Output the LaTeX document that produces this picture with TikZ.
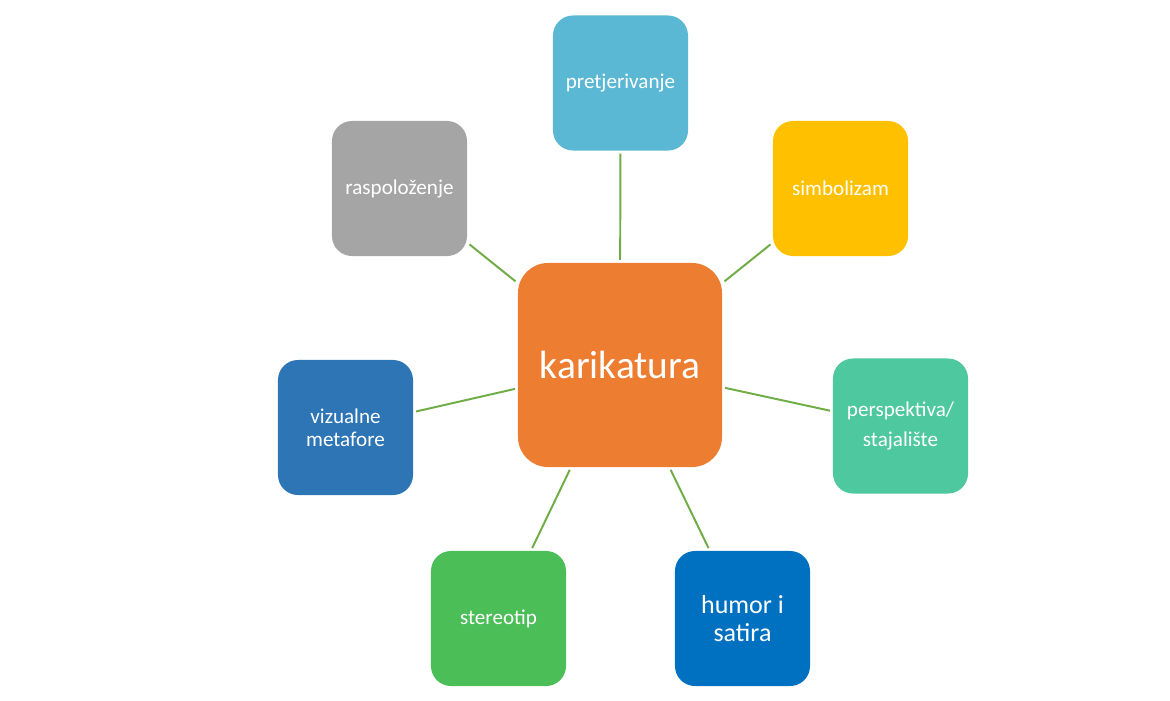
\documentclass[tikz,border=0pt]{standalone}
\usepackage{fontspec}
\setmainfont{Carlito}

\definecolor{linkgreen}{HTML}{70AD47}
\definecolor{boxorange}{HTML}{ED7D31}
\definecolor{boxsky}{HTML}{5BB8D4}
\definecolor{boxyellow}{HTML}{FFC000}
\definecolor{boxteal}{HTML}{4EC89E}
\definecolor{boxblue}{HTML}{0070C0}
\definecolor{boxgreen}{HTML}{4CBE58}
\definecolor{boxsteel}{HTML}{2E75B6}
\definecolor{boxgray}{HTML}{A5A5A5}

\begin{document}
\begin{tikzpicture}[x=0.025cm, y=-0.025cm,
	leaf/.style={rounded corners=0.5cm, minimum width=3.375cm, minimum height=3.375cm,
		text=white, align=center, inner sep=0pt, font=\fontsize{15}{16}\selectfont},
	hub/.style={rounded corners=0.75cm, minimum width=5.1cm, minimum height=5.1cm,
		text=white, align=center, fill=boxorange, font=\fontsize{28}{32}\selectfont},
	link/.style={linkgreen, line width=1.4pt, shorten <=2pt, shorten >=2pt}]
	\useasboundingbox (0,0) rectangle (1170,700);
	% centre
	\node [hub] (kar) at (620,365) {karikatura};
	% ring of topics
	\node [leaf, fill=boxsky] (pret) at (620.5,83) {pretjerivanje};
	\node [leaf, fill=boxyellow] (simb) at (840.5,188.5) {simbolizam};
	\node [leaf, fill=boxteal, font=\fontsize{15}{22}\selectfont] (persp) at (900.5,426) {perspektiva/\\stajalište};
	\node [leaf, fill=boxblue, font=\fontsize{18.5}{20}\selectfont] (hum) at (742.5,618.5) {humor i\\satira};
	\node [leaf, fill=boxgreen] (ster) at (498.5,618.5) {stereotip};
	\node [leaf, fill=boxsteel] (viz) at (345.5,427.5) {vizualne\\metafore};
	\node [leaf, fill=boxgray] (rasp) at (399.5,188.5) {raspoloženje};
	% links
	\foreach \n in {pret, simb, persp, hum, ster, viz, rasp}
		\draw [link] (kar) -- (\n);
\end{tikzpicture}
\end{document}
